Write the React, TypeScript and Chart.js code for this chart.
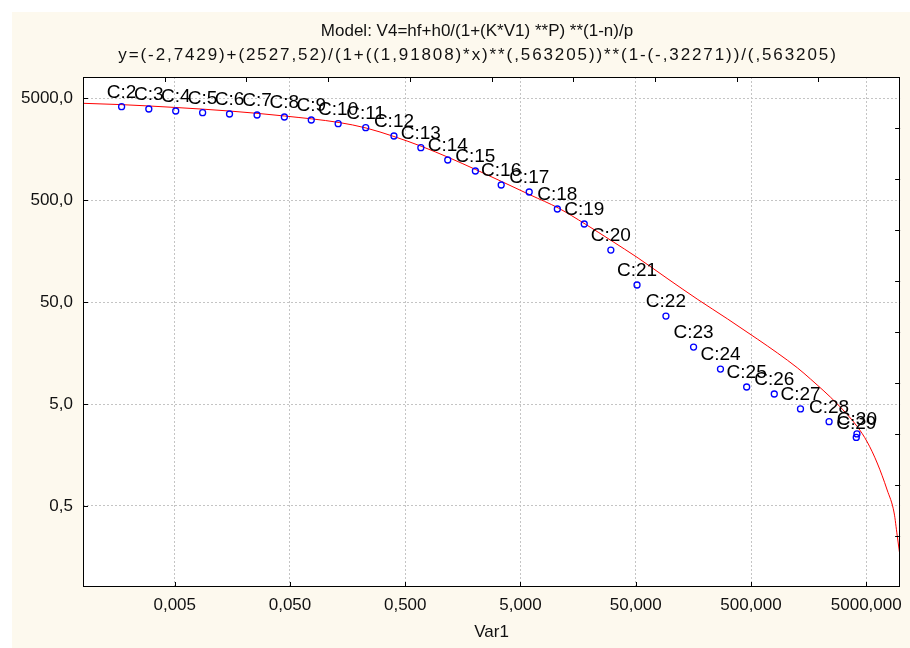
import React, { useEffect, useRef } from "react";
import { Chart, registerables } from "chart.js";

Chart.register(...registerables);

const titleLines = [
  "Model: V4=hf+h0/(1+(K*V1) **P) **(1-n)/p",
  "y=(-2,7429)+(2527,52)/(1+((1,91808)*x)**(,563205))**(1-(-,32271))/(,563205)",
];
const xAxisTitle = "Var1";

const xTickValues = [0.005, 0.05, 0.5, 5, 50, 500, 5000];
const xTickLabels = ["0,005", "0,050", "0,500", "5,000", "50,000", "500,000", "5000,000"];
const yTickValues = [0.5, 5, 50, 500, 5000];
const yTickLabels = ["0,5", "5,0", "50,0", "500,0", "5000,0"];

const pointLabels = [
  "C:2", "C:3", "C:4", "C:5", "C:6", "C:7", "C:8", "C:9", "C:10", "C:11",
  "C:12", "C:13", "C:14", "C:15", "C:16", "C:17", "C:18", "C:19", "C:20", "C:21",
  "C:22", "C:23", "C:24", "C:25", "C:26", "C:27", "C:28", "C:29", "C:30",
];
const pointX = [
  0.00173, 0.00298, 0.0051, 0.00873, 0.01494, 0.0259, 0.0447, 0.0765, 0.1309, 0.227,
  0.399, 0.683, 1.169, 2.03, 3.4, 5.95, 10.44, 17.87, 30.4, 51.3,
  91.4, 158.7, 271.7, 458.5, 796, 1344, 2379, 4095, 4150,
];
const pointY = [
  4135, 3926, 3751, 3611, 3506, 3428, 3276, 3061, 2816, 2572,
  2133, 1637, 1240, 967, 705, 602, 410, 292, 162, 73.6,
  36.5, 18.1, 11.0, 7.34, 6.27, 4.47, 3.35, 2.35, 2.54,
];

const curveX = [
  0.000801, 0.001707, 0.0051, 0.01494, 0.0447, 0.1335, 0.2286, 0.399, 0.697, 1.19,
  2.04, 3.43, 6.1, 10.65, 18.2, 30.6, 52.4, 95.2, 172.9, 314,
  571, 850, 1266, 1640, 2807, 4178, 5099, 6222, 7592, 8729, 9265, 9835,
];
const curveY = [
  4466, 4336, 4062, 3751, 3352, 2893, 2556, 2109, 1683, 1312,
  1000, 763, 562, 419, 292, 201, 135.4, 84.3, 53.0, 34.1,
  21.6, 15.8, 11.3, 8.8, 5.0, 3.0, 2.12, 1.318, 0.716, 0.426, 0.259, 0.1575,
];

const FONT = "'Liberation Sans', Arial, sans-serif";

const decor = {
  id: "decor",
  beforeDraw(chart: any) {
    const { ctx, chartArea: a } = chart;
    ctx.save();
    ctx.fillStyle = "#fdf9ee";
    ctx.fillRect(12, 12, chart.width - 12, chart.height - 12);
    ctx.fillStyle = "#ffffff";
    ctx.fillRect(a.left, a.top, a.right - a.left, a.bottom - a.top);
    ctx.restore();
  },
  afterDatasetsDraw(chart: any) {
    const { ctx } = chart;
    const meta = chart.getDatasetMeta(0);
    ctx.save();
    ctx.font = `19px ${FONT}`;
    ctx.fillStyle = "#000000";
    ctx.textAlign = "center";
    ctx.textBaseline = "middle";
    meta.data.forEach((el: any, i: number) => {
      ctx.fillText(pointLabels[i], el.x, el.y - 14);
    });
    ctx.restore();
  },
  afterDraw(chart: any) {
    const { ctx, chartArea: a, scales } = chart;
    ctx.save();
    // titles
    ctx.fillStyle = "#111111";
    ctx.textAlign = "center";
    ctx.textBaseline = "middle";
    ctx.font = `17px ${FONT}`;
    const cx = 477;
    (ctx as any).letterSpacing = "0px";
    ctx.fillText(titleLines[0], cx, 31);
    (ctx as any).letterSpacing = "1.9px";
    ctx.fillText(titleLines[1], cx + 1, 55);
    (ctx as any).letterSpacing = "0px";
    // frame
    ctx.strokeStyle = "#000000";
    ctx.lineWidth = 1;
    ctx.strokeRect(Math.round(a.left) + 0.5, Math.round(a.top) + 0.5, Math.round(a.right - a.left) - 1, Math.round(a.bottom - a.top) - 1);
    const tl = 5;
    ctx.beginPath();
    scales.x.ticks.forEach((t: any) => {
      const px = Math.round(scales.x.getPixelForValue(t.value)) + 0.5;
      ctx.moveTo(px, a.bottom);
      ctx.lineTo(px, a.bottom - tl);
    });
    scales.y.ticks.forEach((t: any) => {
      const py = Math.round(scales.y.getPixelForValue(t.value)) + 0.5;
      ctx.moveTo(a.left, py);
      ctx.lineTo(a.left + tl, py);
    });
    for (let i = 1; i < 10; i++) {
      const px = Math.round(a.left + ((a.right - a.left) * i) / 10) + 0.5;
      ctx.moveTo(px, a.top);
      ctx.lineTo(px, a.top + tl);
      const py = Math.round(a.top + ((a.bottom - a.top) * i) / 10) + 0.5;
      ctx.moveTo(a.right, py);
      ctx.lineTo(a.right - tl, py);
    }
    ctx.stroke();
    ctx.restore();
  },
};

export default function App() {
  const ref = useRef<HTMLCanvasElement | null>(null);
  useEffect(() => {
    if (!ref.current) return;
    const chart = new Chart(ref.current, {
      type: "scatter",
      data: {
        datasets: [
          {
            label: "cases",
            data: pointX.map((x, i) => ({ x, y: pointY[i] })),
            pointStyle: "circle",
            pointRadius: 3,
            pointBorderWidth: 1.3,
            pointBorderColor: "#0000ff",
            pointBackgroundColor: "rgba(255,255,255,0)",
            showLine: false,
          },
          {
            label: "model",
            data: curveX.map((x, i) => ({ x, y: curveY[i] })),
            showLine: true,
            borderColor: "#ff0000",
            borderWidth: 1,
            pointRadius: 0,
            cubicInterpolationMode: "monotone",
            fill: false,
          },
        ],
      },
      plugins: [decor],
      options: {
        animation: false,
        responsive: false,
        devicePixelRatio: 1,
        layout: { padding: { left: 0, right: 7, top: 77, bottom: 0 } },
        plugins: {
          legend: { display: false },
          tooltip: { enabled: false },
          title: { display: false },
        },
        scales: {
          x: {
            type: "logarithmic",
            position: "bottom",
            min: 0.0008,
            max: 9836,
            afterBuildTicks: (scale: any) => {
              scale.ticks = xTickValues.map((v) => ({ value: v }));
            },
            afterFit: (scale: any) => {
              scale.height = 61;
            },
            ticks: {
              autoSkip: false,
              maxRotation: 0,
              padding: 8,
              color: "#111111",
              font: { family: FONT, size: 17 },
              callback: (_v: any, i: number) => xTickLabels[i],
            },
            grid: { color: "#c4c4c4", lineWidth: 1, drawTicks: false },
            border: { display: false, dash: [2, 2] },
            title: {
              display: true,
              text: xAxisTitle,
              color: "#111111",
              font: { family: FONT, size: 17 },
              padding: { top: 2, bottom: 5 },
            },
          },
          y: {
            type: "logarithmic",
            position: "left",
            min: 0.08,
            max: 8091,
            afterBuildTicks: (scale: any) => {
              scale.ticks = yTickValues.map((v) => ({ value: v }));
            },
            afterFit: (scale: any) => {
              scale.width = 83;
            },
            ticks: {
              autoSkip: false,
              padding: 10,
              color: "#111111",
              font: { family: FONT, size: 17 },
              callback: (_v: any, i: number) => yTickLabels[i],
            },
            grid: { color: "#c4c4c4", lineWidth: 1, drawTicks: false },
            border: { display: false, dash: [2, 2] },
          },
        },
      },
    } as any);
    return () => chart.destroy();
  }, []);
  return (
    <div style={{ position: "absolute", left: 0, top: 0, width: 910, height: 648 }}>
      <canvas ref={ref} width={910} height={648} style={{ width: 910, height: 648, display: "block" }} />
    </div>
  );
}
